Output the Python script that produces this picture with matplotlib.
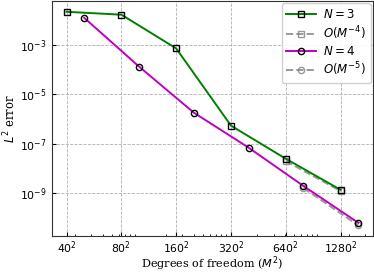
import numpy as np
import matplotlib
matplotlib.use("Agg")
import matplotlib.pyplot as plt
from matplotlib.ticker import FixedLocator, FixedFormatter, LogLocator, NullFormatter

# Data
M3 = [40, 80, 160, 320, 640, 1280]
err3 = [2.1e-2, 1.6e-2, 7.0e-4, 5.4e-7, 2.5e-8, 1.4e-9]
M4 = [50, 100, 200, 400, 800, 1600]
err4 = [1.2e-2, 1.3e-4, 1.8e-6, 7.0e-8, 2.0e-9, 6.6e-11]
ref3_M = [640, 1280]
ref3 = [2.0e-8, 2.0e-8 / 16]
ref4_M = [800, 1600]
ref4 = [1.65e-9, 1.65e-9 / 32]
xtick_M = [40, 80, 160, 320, 640, 1280]
xtick_labels = [r"$40^2$", r"$80^2$", r"$160^2$", r"$320^2$", r"$640^2$", r"$1280^2$"]
ytick_vals = [1e-3, 1e-5, 1e-7, 1e-9]
ytick_labels = [r"$10^{-3}$", r"$10^{-5}$", r"$10^{-7}$", r"$10^{-9}$"]

fig = plt.figure(figsize=(3.74, 2.72), dpi=100)
ax = fig.add_axes([0.139, 0.132, 0.858, 0.864])

dof3 = np.array(M3) ** 2
dof4 = np.array(M4) ** 2

ax.plot(dof3, err3, '-s', color='green', mfc='none', mec='k', ms=4.5, lw=1.4, label=r"$N=3$", zorder=3)
ax.plot(np.array(ref3_M) ** 2, ref3, '--s', color='gray', alpha=0.8, mfc='none', ms=4.5, lw=1.4, label=r"$O(M^{-4})$", zorder=2)
ax.plot(dof4, err4, '-o', color='m', mfc='none', mec='k', ms=4.5, lw=1.4, label=r"$N=4$", zorder=3)
ax.plot(np.array(ref4_M) ** 2, ref4, '--o', color='gray', alpha=0.8, mfc='none', ms=4.5, lw=1.4, label=r"$O(M^{-5})$", zorder=2)

ax.set_xscale('log')
ax.set_yscale('log')
ax.xaxis.set_major_locator(FixedLocator(np.array(xtick_M) ** 2))
ax.xaxis.set_major_formatter(FixedFormatter(xtick_labels))
ax.xaxis.set_minor_locator(LogLocator(base=10, subs=np.arange(2, 10)))
ax.xaxis.set_minor_formatter(NullFormatter())
ax.yaxis.set_major_locator(FixedLocator(ytick_vals))
ax.yaxis.set_major_formatter(FixedFormatter(ytick_labels))
ax.yaxis.set_minor_locator(FixedLocator([]))

ax.tick_params(axis='both', which='both', direction='in', labelsize=7.8)
ax.tick_params(which='major', length=3)
ax.tick_params(axis='x', which='major', pad=2.6)
ax.tick_params(axis='y', which='major', pad=4.0)
ax.tick_params(which='minor', length=1.5)
ax.grid(True, which='major', linestyle='--', color='#b0b0b0', lw=0.6)

for s in ax.spines.values():
    s.set_color('#333333')

ax.set_xlabel(r"Degrees of freedom ($M^2$)", family='DejaVu Serif', fontsize=8.1)
ax.xaxis.set_label_coords(0.5, -0.078)
ax.set_ylabel(r"$L^2$ error", family='DejaVu Serif', fontsize=8.3, labelpad=1)

ax.legend(loc='upper right', fontsize=8.5, handlelength=2.5, framealpha=0.9,
          borderpad=0.4, labelspacing=0.25, borderaxespad=0.2, handletextpad=0.6)

fig.savefig("out.png", dpi=100)
